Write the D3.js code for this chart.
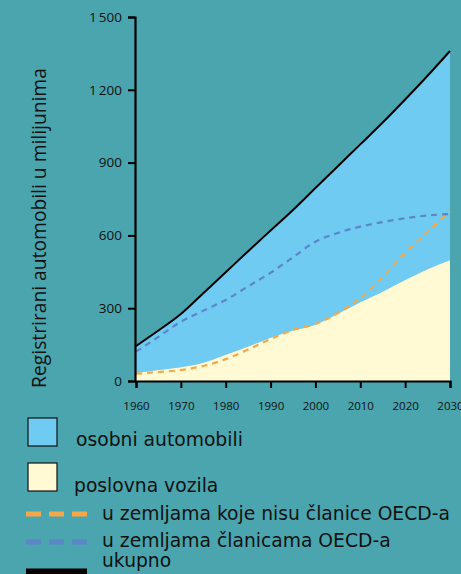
<!DOCTYPE html>
<html>
<head>
<meta charset="utf-8">
<script src="https://cdn.jsdelivr.net/npm/d3@7"></script>
<style>
  html, body { margin: 0; padding: 0; background: #4aa5ae; }
  svg { display: block; }
</style>
</head>
<body>
<div id="chart"></div>
<script>
// --------------- Data (millions of registered vehicles) ---------------
const years = [1960, 1965, 1970, 1975, 1980, 1985, 1990, 1995, 2000, 2005, 2010, 2015, 2020, 2025, 2030];
const total = [144, 208, 276, 362, 448, 535, 620, 705, 795, 885, 975, 1065, 1160, 1258, 1360];
const commercial = [33, 45, 57, 75, 108, 142, 178, 208, 232, 277, 325, 368, 416, 461, 498];
const nonOecd = [30, 37, 45, 62, 90, 130, 173, 210, 235, 280, 342, 430, 527, 615, 700];
const oecd = [121, 182, 244, 290, 334, 390, 446, 510, 574, 610, 636, 655, 671, 682, 688];
const yTicks = [0, 300, 600, 900, 1200, 1500];
const xTicks = [1960, 1970, 1980, 1990, 2000, 2010, 2020, 2030];
const legendItems = [
  { label: "osobni automobili", type: "box", color: "#6fcbf2" },
  { label: "poslovna vozila", type: "box", color: "#fff9d4" },
  { label: "u zemljama koje nisu članice OECD-a", type: "dash", color: "#f5a84a" },
  { label: "u zemljama članicama OECD-a", type: "dash", color: "#5b86c8" },
  { label: "ukupno", type: "line", color: "#000" }
];

const WIDTH = 461;
const HEIGHT = 574;
const BG = "#4aa5ae";
const FONT = "'Open Sans', sans-serif";
const LEGEND_FONT = "'DejaVu Sans', sans-serif";

const svg = d3.select("#chart")
  .append("svg")
  .attr("width", WIDTH)
  .attr("height", HEIGHT)
  .style("background", BG);

const x = d3.scaleLinear().domain([1960, 2030]).range([136, 450]);
const y = d3.scaleLinear().domain([0, 1500]).range([381, 17]);

const rows = years.map((yr, i) => ({
  year: yr, total: total[i], commercial: commercial[i], nonOecd: nonOecd[i], oecd: oecd[i]
}));

// areas: passenger cars stacked on commercial vehicles, topped by total
const areaCars = d3.area()
  .x(d => x(d.year))
  .y0(d => y(d.commercial))
  .y1(d => y(d.total))
  .curve(d3.curveMonotoneX);

const areaComm = d3.area()
  .x(d => x(d.year))
  .y0(y(0))
  .y1(d => y(d.commercial))
  .curve(d3.curveMonotoneX);

svg.append("path").datum(rows).attr("d", areaCars).attr("fill", "#6fcbf2");
svg.append("path").datum(rows).attr("d", areaComm).attr("fill", "#fff9d4");

const lineOf = key => d3.line()
  .x(d => x(d.year))
  .y(d => y(d[key]))
  .curve(d3.curveMonotoneX);

svg.append("path").datum(rows)
  .attr("d", lineOf("nonOecd"))
  .attr("fill", "none")
  .attr("stroke", "#f5a84a")
  .attr("stroke-width", 2.2)
  .attr("stroke-dasharray", "6,5");

svg.append("path").datum(rows)
  .attr("d", lineOf("oecd"))
  .attr("fill", "none")
  .attr("stroke", "#5b86c8")
  .attr("stroke-width", 2.2)
  .attr("stroke-dasharray", "6,5");

svg.append("path").datum(rows)
  .attr("d", lineOf("total"))
  .attr("fill", "none")
  .attr("stroke", "#000")
  .attr("stroke-width", 2);

// --------------- Axes ---------------
const yAxis = d3.axisLeft(y)
  .tickValues(yTicks)
  .tickSize(7)
  .tickPadding(6)
  .tickFormat(d => d >= 1000 ? d3.format(",")(d).replace(",", "\u2009") : d);

const gy = svg.append("g")
  .attr("transform", `translate(${x(1960) - 1},0)`)
  .call(yAxis);

const xAxis = d3.axisBottom(x)
  .tickValues(xTicks)
  .tickSize(7)
  .tickPadding(14)
  .tickFormat(d3.format("d"));

const gx = svg.append("g")
  .attr("transform", `translate(0,${y(0)})`)
  .call(xAxis);

[gx, gy].forEach(g => {
  g.select(".domain").attr("stroke", "#000").attr("stroke-width", 2.2);
  g.selectAll(".tick line").attr("stroke", "#000").attr("stroke-width", 2);
  g.selectAll("text").attr("fill", "#111").attr("font-family", FONT);
});
gy.selectAll("text").attr("font-size", 13.5);
gx.selectAll("text").attr("font-size", 11.5);

const yLabel = svg.append("text")
  .attr("transform", `translate(46,228) rotate(-90)`)
  .attr("text-anchor", "middle")
  .attr("font-family", FONT)
  .attr("font-size", 17)
  .attr("fill", "#111")
  .text("Registrirani automobili u milijunima");
// stretch to the ~320px run of the original label
yLabel.attr("font-size", 17 * 320 / yLabel.node().getComputedTextLength());

// --------------- Legend ---------------
const legendY = [432, 477, 514, 542, 572];
const textY = [446, 492, 520, 547, 567];
const textX = [76, 74, 102, 102, 102];

const legendTexts = [];
legendItems.forEach((item, i) => {
  const g = svg.append("g");
  if (item.type === "box") {
    g.append("rect")
      .attr("x", 28).attr("y", legendY[i] - 14)
      .attr("width", 29).attr("height", 28)
      .attr("fill", item.color)
      .attr("stroke", "#111").attr("stroke-width", 1.2);
  } else if (item.type === "dash") {
    g.append("line")
      .attr("x1", 26).attr("x2", 88)
      .attr("y1", legendY[i]).attr("y2", legendY[i])
      .attr("stroke", item.color).attr("stroke-width", 5)
      .attr("stroke-dasharray", "15,8");
  } else {
    g.append("line")
      .attr("x1", 26).attr("x2", 87)
      .attr("y1", legendY[i]).attr("y2", legendY[i])
      .attr("stroke", item.color).attr("stroke-width", 7);
  }
  legendTexts.push(g.append("text")
    .attr("x", textX[i]).attr("y", textY[i])
    .attr("font-family", LEGEND_FONT)
    .attr("font-size", 18)
    .attr("fill", "#111")
    .text(item.label));
});

// size legend so that the longest label spans the same width as in the original (~350px)
const longest = legendTexts[2].node().getComputedTextLength();
const size = 18 * 348 / longest;
legendTexts.forEach(t => t.attr("font-size", size));
</script>
</body>
</html>
